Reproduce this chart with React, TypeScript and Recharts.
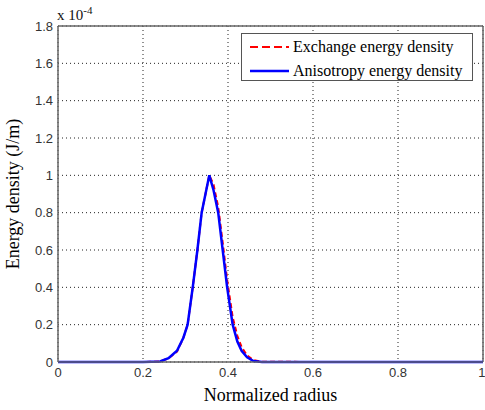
import React from "react";
import {
  LineChart,
  Line,
  XAxis,
  YAxis,
  CartesianGrid,
  ReferenceLine,
} from "recharts";

const radius = [
  0, 0.2, 0.24, 0.26, 0.28, 0.295, 0.305, 0.317, 0.328, 0.338, 0.347, 0.356,
  0.366, 0.377, 0.3875, 0.398, 0.411, 0.422, 0.432, 0.445, 0.46, 0.48, 0.6, 1,
];
const exchange = [
  0, 0, 0.003, 0.02, 0.055, 0.13, 0.2, 0.4, 0.6, 0.8, 0.9, 1.0, 0.95, 0.83,
  0.64, 0.44, 0.24, 0.14, 0.08, 0.035, 0.01, 0.002, 0, 0,
];
const anisotropy = [
  0, 0, 0.003, 0.02, 0.06, 0.13, 0.2, 0.4, 0.6, 0.8, 0.9, 1.0, 0.92, 0.8, 0.6,
  0.4, 0.2, 0.11, 0.06, 0.025, 0.005, 0, 0, 0,
];
const xTicks = [0, 0.2, 0.4, 0.6, 0.8, 1];
const yTicks = [0, 0.2, 0.4, 0.6, 0.8, 1, 1.2, 1.4, 1.6, 1.8];
const seriesNames = ["Exchange energy density", "Anisotropy energy density"];

const data = radius.map((r, i) => ({
  r,
  exchange: exchange[i],
  anisotropy: anisotropy[i],
}));

const tickStyle = {
  fontFamily: "Liberation Sans, Arial, sans-serif",
  fontSize: 13,
  fill: "#333",
};

const fmt = (v: number) => String(Math.round(v * 10) / 10);

export default function App() {
  return (
    <div
      style={{
        position: "absolute",
        left: 0,
        top: 0,
        width: 485,
        height: 410,
        background: "#fff",
      }}
    >
      <LineChart
        width={485}
        height={410}
        data={data}
        margin={{ top: 26, right: 2, bottom: 0, left: 0 }}
      >
        <CartesianGrid
          stroke="#222"
          strokeDasharray="1 3"
          horizontalValues={yTicks}
          verticalValues={xTicks}
        />
        <XAxis
          dataKey="r"
          type="number"
          domain={[0, 1]}
          ticks={xTicks}
          tickFormatter={fmt}
          tick={tickStyle}
          tickLine={false}
          tickSize={0}
          tickMargin={6}
          height={48}
          stroke="#666"
          strokeWidth={1.5}
          label={{
            value: "Normalized radius",
            position: "insideBottom",
            offset: 9,
            style: {
              fontFamily: "Liberation Serif, Times New Roman, serif",
              fontSize: 18,
              fill: "#000",
            },
          }}
        />
        <YAxis
          type="number"
          domain={[0, 1.8]}
          ticks={yTicks}
          tickFormatter={fmt}
          tick={tickStyle}
          tickLine={false}
          tickSize={0}
          tickMargin={5}
          width={58}
          stroke="#666"
          strokeWidth={1.5}
          label={{
            value: "Energy density (J/m)",
            angle: -90,
            position: "insideLeft",
            offset: 13,
            style: {
              textAnchor: "middle",
              fontFamily: "Liberation Serif, Times New Roman, serif",
              fontSize: 18,
              fill: "#000",
            },
          }}
        />
        <ReferenceLine y={1.8} stroke="#666" strokeWidth={1.5} />
        <ReferenceLine x={1} stroke="#666" strokeWidth={1.5} />
        <Line
          type="linear"
          dataKey="exchange"
          name={seriesNames[0]}
          stroke="#ff0000"
          strokeWidth={2}
          strokeDasharray="5 3"
          dot={false}
          isAnimationActive={false}
        />
        <Line
          type="linear"
          dataKey="anisotropy"
          name={seriesNames[1]}
          stroke="#0000ff"
          strokeWidth={2.5}
          dot={false}
          isAnimationActive={false}
        />
      </LineChart>

      <div
        style={{
          position: "absolute",
          left: 57,
          top: 4,
          fontFamily: "Liberation Serif, Times New Roman, serif",
          fontSize: 15,
          color: "#111",
          whiteSpace: "nowrap",
        }}
      >
        x 10<sup style={{ fontSize: 11 }}>-4</sup>
      </div>

      <div
        style={{
          position: "absolute",
          left: 241,
          top: 33,
          width: 232,
          height: 48,
          border: "1px solid #555",
          background: "#fff",
          fontFamily: "Liberation Serif, Times New Roman, serif",
          fontSize: 16,
          color: "#000",
          boxSizing: "border-box",
        }}
      >
        {seriesNames.map((name, i) => (
          <div
            key={name}
            style={{
              position: "absolute",
              left: 7,
              top: i === 0 ? 3 : 27,
              height: 19,
              display: "flex",
              alignItems: "center",
              whiteSpace: "nowrap",
            }}
          >
            <svg width={41} height={10} style={{ marginRight: 3 }}>
              <line
                x1={1}
                y1={5}
                x2={40}
                y2={5}
                stroke={i === 0 ? "#ff0000" : "#0000ff"}
                strokeWidth={i === 0 ? 2 : 2.5}
                strokeDasharray={i === 0 ? "8 4" : undefined}
              />
            </svg>
            <span>{name}</span>
          </div>
        ))}
      </div>
    </div>
  );
}
